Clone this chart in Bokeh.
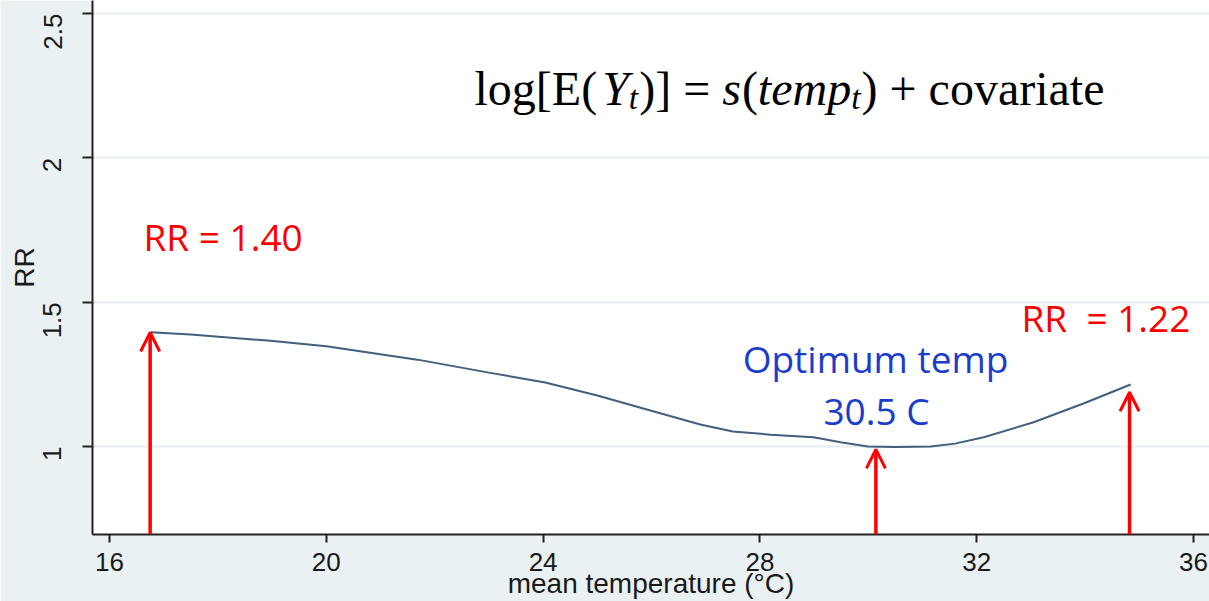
import math
from bokeh.plotting import figure
from bokeh.models import Range1d, FixedTicker, Label, Arrow, OpenHead, ColumnDataSource
from bokeh.embed import file_html
from bokeh.resources import INLINE

# ---- data ----
temp = [16.76, 17.5, 18.92, 20.0, 21.68, 23.0, 24.04, 25.0, 25.98, 26.9, 27.5,
        28.2, 28.99, 29.49, 29.99, 30.5, 31.15, 31.6, 32.13, 33.05, 33.97, 34.84]
rr = [1.396, 1.388, 1.367, 1.347, 1.301, 1.256, 1.222, 1.177, 1.125, 1.076, 1.052,
      1.041, 1.032, 1.015, 1.000, 0.998, 1.000, 1.010, 1.032, 1.084, 1.149, 1.215]

arrow_temp = [16.75, 30.14, 34.82]
arrow_rr = [1.395, 0.99, 1.188]

x_ticks = [16, 20, 24, 28, 32, 36]
y_ticks = [1, 1.5, 2, 2.5]
y_tick_labels = ["1", "1.5", "2", "2.5"]

x_label = "mean temperature (°C)"
y_label = "RR"

# ---- layout ----
W, H = 1209, 601
BL, BR, BT, BB = 92, 0, 0, 67
x0, x1 = 15.6863, 36.2952
y0, y1 = 0.6951, 2.5454
ppx = (W - BL - BR) / (x1 - x0)
ppy = (H - BT - BB) / (y1 - y0)

p = figure(width=W, height=H, x_range=Range1d(x0, x1), y_range=Range1d(y0, y1),
           output_backend="svg", toolbar_location=None,
           min_border_left=BL, min_border_right=BR, min_border_top=BT, min_border_bottom=BB)
p.background_fill_color = "white"
p.border_fill_color = "#e9f1f3"
p.outline_line_color = None

p.xaxis.ticker = FixedTicker(ticks=x_ticks)
p.yaxis.ticker = FixedTicker(ticks=y_ticks)
p.yaxis.major_label_overrides = {t: l for t, l in zip(y_ticks, y_tick_labels)}
p.ygrid.ticker = FixedTicker(ticks=y_ticks)
p.xgrid.grid_line_color = None
p.ygrid.grid_line_color = "#e6eef0"
p.ygrid.grid_line_width = 2

for ax in (p.xaxis, p.yaxis):
    ax.axis_line_color = "#222222"
    ax.axis_line_width = 2
    ax.major_tick_line_color = "#222222"
    ax.major_tick_line_width = 2
    ax.major_tick_in = 0
    ax.minor_tick_line_color = None
    ax.major_label_text_font = "Liberation Sans"
    ax.major_label_text_font_size = "26px"
    ax.major_label_text_color = "#1a1a1a"
    ax.axis_label_text_font = "Liberation Sans"
    ax.axis_label_text_font_size = "28px"
    ax.axis_label_text_font_style = "normal"
    ax.axis_label_text_color = "#1a1a1a"

p.xaxis.major_tick_out = 8
p.xaxis.major_label_standoff = 10
p.xaxis.axis_label = x_label
p.xaxis.axis_label_standoff = -6

p.yaxis.major_tick_out = 10
p.yaxis.major_label_standoff = 30
p.yaxis.major_label_orientation = math.pi / 2
p.yaxis.axis_label = y_label
p.yaxis.axis_label_standoff = -8

# ---- curve ----
p.line(temp, rr, line_color="#435f7c", line_width=2)

# ---- arrows ----
asrc = ColumnDataSource(dict(x=arrow_temp, y0=[y0] * len(arrow_temp), y1=arrow_rr))
p.add_layout(Arrow(source=asrc, x_start="x", y_start="y0", x_end="x", y_end="y1",
                   line_color="red", line_width=3.5,
                   end=OpenHead(size=19, line_color="red", line_width=3)))

SHIFT = 16  # empirical baseline correction (px)

def xd(px):
    return 16 + (px - 109) / ppx

def yd(py):
    return 1 + (446 - (py - SHIFT)) / ppy

RED = "#ff0000"
BLUE = "#1a3ccc"
ann_font = "Open Sans"

p.add_layout(Label(x=xd(143), y=yd(252), text="RR = 1.40", text_font=ann_font,
                   text_font_size="37px", text_color=RED, text_baseline="alphabetic"))
p.add_layout(Label(x=xd(1021), y=yd(333), text="RR\u00a0\u00a0= 1.22", text_font=ann_font,
                   text_font_size="37px", text_color=RED, text_baseline="alphabetic"))
p.add_layout(Label(x=xd(875), y=yd(374), text="Optimum temp", text_font=ann_font,
                   text_font_size="37px", text_color=BLUE, text_baseline="alphabetic",
                   text_align="center"))
p.add_layout(Label(x=xd(876), y=yd(426), text="30.5 C", text_font=ann_font,
                   text_font_size="37px", text_color=BLUE, text_baseline="alphabetic",
                   text_align="center"))

# ---- formula, built from pieces (Times metrics) ----
F = 48.0
S = 0.7 * F
pieces = [
    ("log[E(", "normal", F, 0, 2.555 * F + 5),
    ("Y", "italic", F, 0, 0.556 * F),
    ("t", "italic", S, 9, 0.278 * S + 1),
    (")] = ", "normal", F, 0, 1.730 * F),
    ("s", "italic", F, 0, 0.389 * F + 1),
    ("(", "normal", F, 0, 0.333 * F),
    ("temp", "italic", F, 0, 1.944 * F),
    ("t", "italic", S, 9, 0.278 * S + 1),
    (") + covariate", "normal", F, 0, 0),
]
cx = 474.0
base = 104.0
for txt, style, size, drop, w in pieces:
    p.add_layout(Label(x=xd(cx), y=yd(base + drop), text=txt,
                       text_font="Liberation Serif", text_font_style=style,
                       text_font_size=f"{size:.1f}px", text_color="black",
                       text_baseline="alphabetic", text_align="left"))
    cx += w

open("out.html", "w").write(file_html(p, INLINE))
